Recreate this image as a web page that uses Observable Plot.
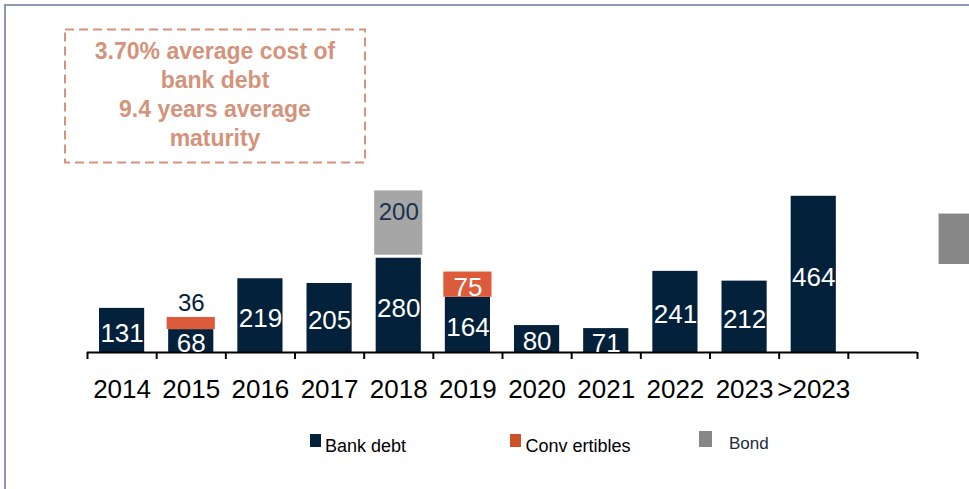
<!DOCTYPE html>
<html>
<head>
<meta charset="utf-8">
<script src="https://cdn.jsdelivr.net/npm/d3@7"></script>
<script src="https://cdn.jsdelivr.net/npm/@observablehq/plot@0.6"></script>
<style>
  html, body { margin: 0; padding: 0; background: #fff; }
  body { width: 969px; height: 489px; overflow: hidden; position: relative; font-family: "Liberation Sans", Arial, sans-serif; }
  #frame { position: absolute; left: 4px; top: 4px; width: 1200px; height: 800px; border-left: 2px solid #8e9ab0; border-top: 2px solid #8e9ab0; box-sizing: border-box; }
  #chart { position: absolute; left: 0; top: 0; }
  .abs { position: absolute; }
  #note { position: absolute; left: 40px; top: 37px; width: 350px; text-align: center; font-weight: bold; font-size: 23px; line-height: 29px; color: #d4937b; }
  .sw { position: absolute; }
  .lt { position: absolute; white-space: pre; font-size: 18px; line-height: 18px; color: #000; }
</style>
</head>
<body>
<div id="frame"></div>
<div id="chart"></div>
<svg class="abs" style="left:0;top:0" width="969" height="489">
  <rect x="65" y="29.5" width="300" height="133" fill="none" stroke="#d4937b" stroke-width="2" stroke-dasharray="9 5"></rect>
</svg>
<div id="note"></div>
<div id="legend"></div>
<div class="abs" style="left:938px;top:213px;width:31px;height:51px;background:#878787;border-top:1px solid #ccc;border-left:1px solid #ccc;box-sizing:border-box"></div>
<script>
// ---- data ----
const years = ["2014", "2015", "2016", "2017", "2018", "2019", "2020", "2021", "2022", "2023", ">2023"];
const bankDebt = [131, 68, 219, 205, 280, 164, 80, 71, 241, 212, 464];
const convertibles = [0, 36, 0, 0, 0, 75, 0, 0, 0, 0, 0];
const bond = [0, 0, 0, 0, 200, 0, 0, 0, 0, 0, 0];
const seriesNames = ["Bank debt", "Conv ertibles", "Bond"];
const noteLines = ["3.70% average cost of", "bank debt", "9.4 years average", "maturity"];
const slotCount = 12; // 11 categories + one empty slot at the end

const navy = "#03213a";
const orange = "#dc5b3a";
const grayBar = "#a6a6a6";

const rows = years.map((year, i) => ({
  i, year, bank: bankDebt[i], conv: convertibles[i], bond: bond[i]
}));

const chart = Plot.plot({
  width: 969,
  height: 489,
  marginLeft: 87,
  marginRight: 52,
  marginTop: 150,
  marginBottom: 137,
  style: { fontFamily: "'Liberation Sans', Arial, sans-serif", color: "#000", background: "transparent", overflow: "visible" },
  x: { type: "linear", domain: [0, slotCount] },
  y: { domain: [0, 600], axis: null },
  marks: [
    Plot.rectY(rows, { x1: d => d.i, x2: d => d.i + 1, y1: 0, y2: "bank", fill: navy, insetLeft: 12, insetRight: 12 }),
    Plot.rectY(rows.filter(d => d.conv > 0), { x1: d => d.i, x2: d => d.i + 1, y1: "bank", y2: d => d.bank + d.conv, fill: orange, insetLeft: 10.5, insetRight: 10.5 }),
    Plot.rectY(rows.filter(d => d.bond > 0), { x1: d => d.i, x2: d => d.i + 1, y1: d => d.bank + d.conv, y2: d => d.bank + d.conv + d.bond, fill: grayBar, insetLeft: 10.5, insetRight: 10.5, insetBottom: 3 }),
    Plot.ruleY([0], { stroke: "#000", strokeWidth: 2 }),
    Plot.axisX({ ticks: d3.range(slotCount + 1), tickSize: 7, tickFormat: () => "", stroke: "#000", strokeWidth: 2 }),
    Plot.axisX({ ticks: years.map((y, i) => i + 0.5), tickSize: 0, tickPadding: 27, tickFormat: d => years[Math.floor(d)], fontSize: 26, fill: "#000" }),
    Plot.text(rows, { x: d => d.i + 0.5, y: d => d.bank / 2, text: d => String(d.bank), fill: "#fff", fontSize: 26, dy: 3 }),
    Plot.text(rows.filter(d => d.conv >= 50), { x: d => d.i + 0.5, y: d => d.bank + d.conv / 2, text: d => String(d.conv), fill: "#fff", fontSize: 26, dy: 3 }),
    Plot.text(rows.filter(d => d.conv > 0 && d.conv < 50), { x: d => d.i + 0.5, y: d => d.bank + d.conv, text: d => String(d.conv), fill: navy, fontSize: 24, lineAnchor: "bottom", dy: -6 }),
    Plot.text(rows.filter(d => d.bond > 0), { x: d => d.i + 0.5, y: d => d.bank + d.conv + d.bond / 2, text: d => String(d.bond), fill: "#1b3150", fontSize: 24, dy: -12 })
  ]
});
document.getElementById("chart").appendChild(chart);

document.getElementById("note").innerHTML = noteLines.join("<br>");

const legendItems = [
  { name: seriesNames[0], color: navy, sq: [310, 434, 11, 13], tx: [325, 437], fs: 18, col: "#000" },
  { name: seriesNames[1], color: "#cc5128", sq: [510, 434, 11, 13], tx: [525.5, 437], fs: 18, col: "#000" },
  { name: seriesNames[2], color: "#878787", sq: [699, 431, 13, 16], tx: [729, 435], fs: 17, col: "#1b2a3c" }
];
const lg = document.getElementById("legend");
for (const it of legendItems) {
  const s = document.createElement("div");
  s.className = "sw";
  Object.assign(s.style, { left: it.sq[0] + "px", top: it.sq[1] + "px", width: it.sq[2] + "px", height: it.sq[3] + "px", background: it.color });
  lg.appendChild(s);
  const t = document.createElement("div");
  t.className = "lt";
  Object.assign(t.style, { left: it.tx[0] + "px", top: it.tx[1] + "px", fontSize: it.fs + "px", color: it.col });
  t.textContent = it.name;
  lg.appendChild(t);
}
</script>
</body>
</html>
